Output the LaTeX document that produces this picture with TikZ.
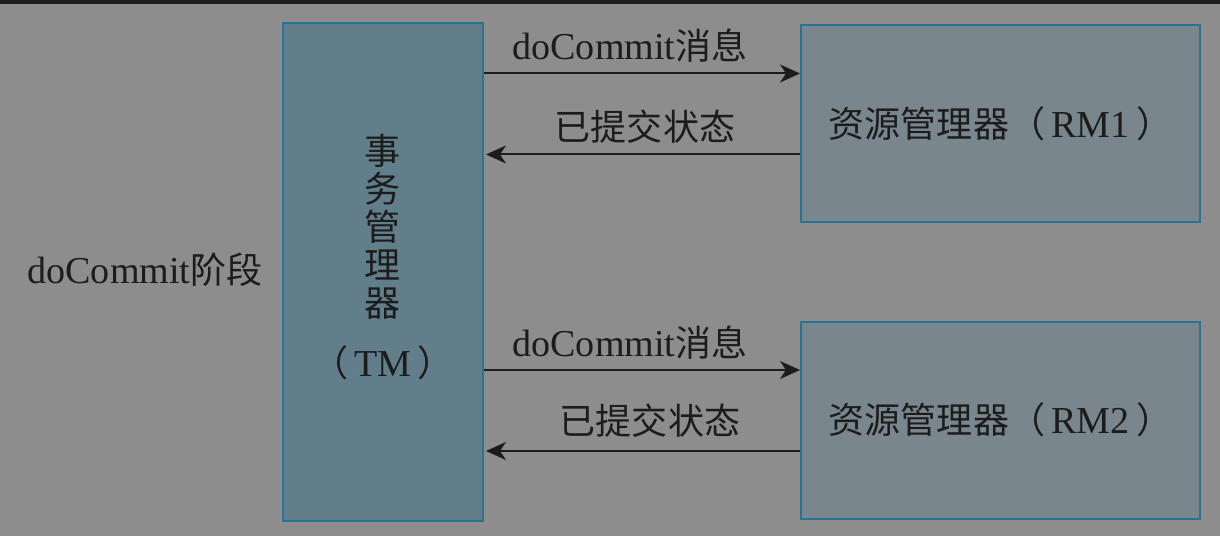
\documentclass[tikz,border=0pt]{standalone}
\usepackage{fontspec}
\setmainfont{Liberation Serif}[Scale=1.12]
\newfontfamily\cjk{Noto Sans CJK SC}[Scale=1.06]
\usetikzlibrary{arrows.meta}
\definecolor{bgcol}{HTML}{8D8D8D}
\definecolor{barcol}{HTML}{1E1E1E}
\definecolor{tmcol}{HTML}{617E8A}
\definecolor{rmcol}{HTML}{79868D}
\definecolor{edgecol}{HTML}{2B7394}
\definecolor{txtcol}{HTML}{1C1C1C}
\begin{document}
\begin{tikzpicture}[x=.5pt,y=.5pt,
    box/.style={draw=edgecol,line width=1pt,inner sep=0pt},
    lbl/.style={text=txtcol,inner sep=0pt,font=\fontsize{17}{19}\selectfont},
    msg/.style={draw=txtcol,line width=1pt,-{Stealth[length=10pt,width=9pt,inset=3pt]}}]
        \fill[bgcol] (0,0) rectangle (1220,536);
        \fill[barcol] (0,532) rectangle (1220,536);

        \node[box,fill=tmcol,minimum width=100pt,minimum height=249pt] (tm) at (383,264) {};
        \node[lbl,align=center] (tmtext) at (383,279) {{\cjk 事}\\{\cjk 务}\\{\cjk 管}\\{\cjk 理}\\{\cjk 器}\\[11pt]{\cjk （}\,TM\,{\cjk ）}};
        \node[box,fill=rmcol,minimum width=199.5pt,minimum height=98.5pt,lbl] (rm1) at (1000.5,412.5) {{\cjk 资源管理器（}\,RM1\,{\cjk ）}};
        \node[box,fill=rmcol,minimum width=199.5pt,minimum height=98.5pt,lbl] (rm2) at (1000.5,116) {{\cjk 资源管理器（}\,RM2\,{\cjk ）}};
        \node[lbl] (phase) at (145,266) {doCommit{\cjk 阶段}};

        \draw[msg] ([yshift=25pt]rm1.west -| tm.east) -- ([yshift=25pt]rm1.west);
        \draw[msg] ([yshift=-15.5pt]rm1.west) -- ([yshift=-15.5pt,xshift=1pt]rm1.west -| tm.east);
        \draw[msg] ([yshift=25pt]rm2.west -| tm.east) -- ([yshift=25pt]rm2.west);
        \draw[msg] ([yshift=-15.5pt]rm2.west) -- ([yshift=-15.5pt,xshift=1pt]rm2.west -| tm.east);

        \node[lbl] (do1) at (630,490) {doCommit{\cjk 消息}};
        \node[lbl] (ok1) at (645,409) {\cjk 已提交状态};
        \node[lbl] (do2) at (630,193) {doCommit{\cjk 消息}};
        \node[lbl] (ok2) at (650,115) {\cjk 已提交状态};

      \end{tikzpicture}
\end{document}
